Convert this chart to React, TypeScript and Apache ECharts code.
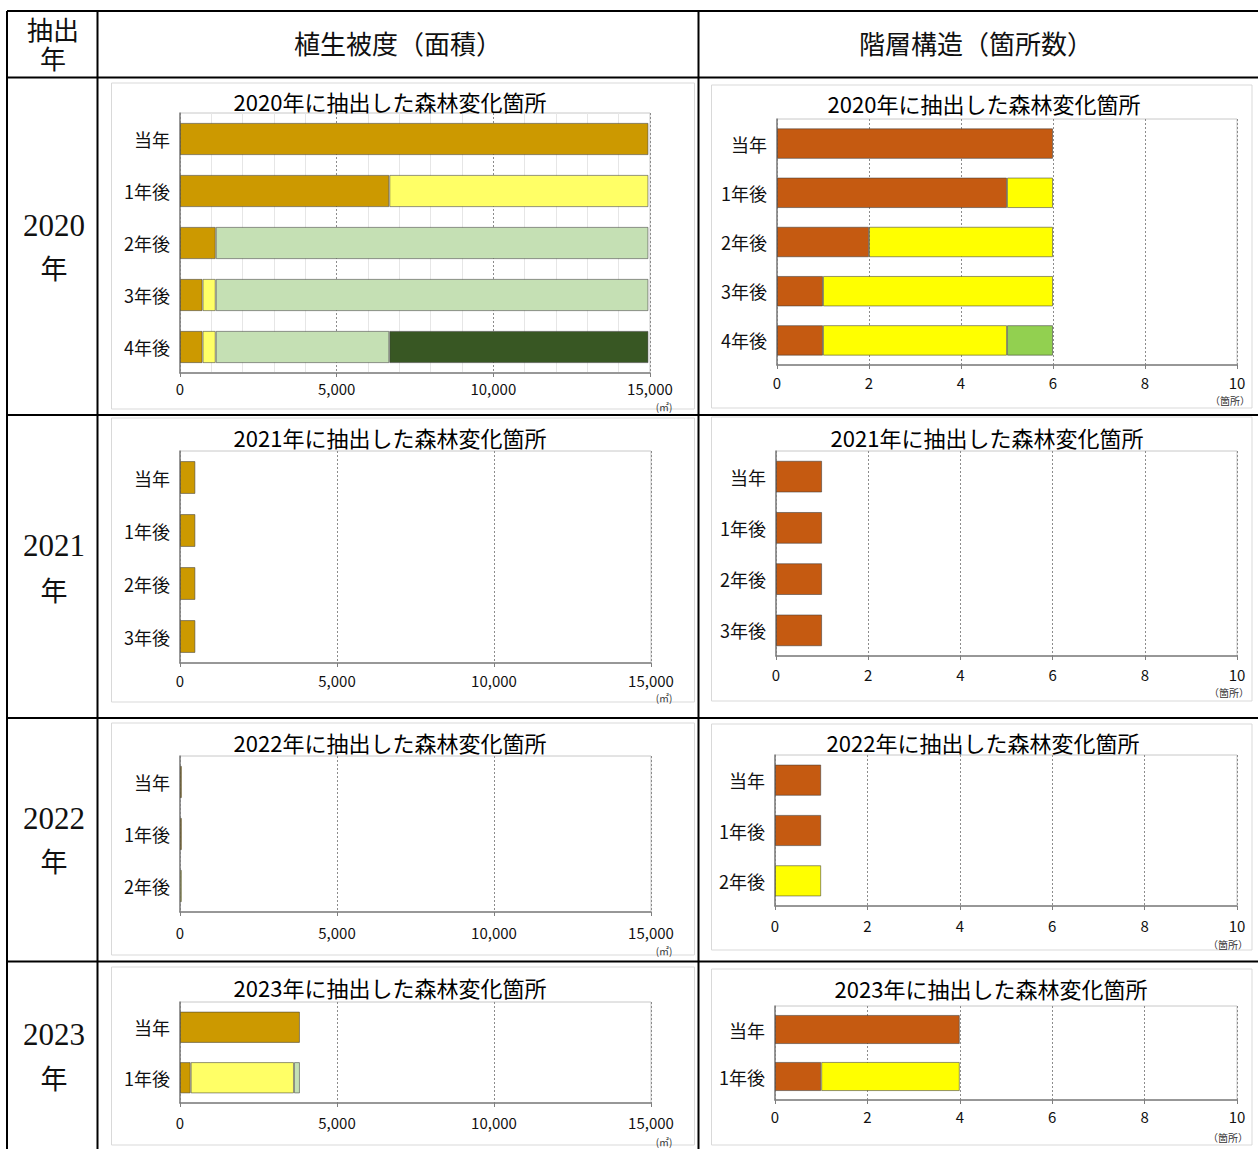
import React, { useEffect, useRef } from 'react';
import * as echarts from 'echarts';

// ---------------- data ----------------
const HEADER_COL1 = ['抽出', '年'];
const HEADER_COL2 = '植生被度（面積）';
const HEADER_COL3 = '階層構造（箇所数）';
const YEARS = ['2020', '2021', '2022', '2023'];
const YEAR_SUFFIX = '年';
const TITLE_SUFFIX = '年に抽出した森林変化箇所';
const UNIT_AREA = '(㎡)';
const UNIT_COUNT = '（箇所）';

const CATS_2020 = ['当年', '1年後', '2年後', '3年後', '4年後'];
const CATS_2021 = ['当年', '1年後', '2年後', '3年後'];
const CATS_2022 = ['当年', '1年後', '2年後'];
const CATS_2023 = ['当年', '1年後'];

// x-axis ticks
const AREA_MIN = 0;
const AREA_MAX = 15000;
const AREA_STEP = 5000;
const COUNT_MIN = 0;
const COUNT_MAX = 10;
const COUNT_STEP = 2;

// 植生被度（面積, ㎡）: stacked classes A..D
const AREA_2020_A = [14950, 6680, 1140, 720, 720];
const AREA_2020_B = [0, 8270, 0, 420, 420];
const AREA_2020_C = [0, 0, 13810, 13810, 5540];
const AREA_2020_D = [0, 0, 0, 0, 8270];
const AREA_2021_A = [490, 490, 490, 490];
const AREA_2022_A = [60, 60, 0];
const AREA_2022_B = [0, 0, 60];
const AREA_2023_A = [3820, 340];
const AREA_2023_B = [0, 3290];
const AREA_2023_C = [0, 190];

// 階層構造（箇所数）: stacked classes A..C
const COUNT_2020_A = [6, 5, 2, 1, 1];
const COUNT_2020_B = [0, 1, 4, 5, 4];
const COUNT_2020_C = [0, 0, 0, 0, 1];
const COUNT_2021_A = [1, 1, 1, 1];
const COUNT_2022_A = [1, 1, 0];
const COUNT_2022_B = [0, 0, 1];
const COUNT_2023_A = [4, 1];
const COUNT_2023_B = [0, 3];

// ---------------- styles / layout ----------------
const AREA_COLORS = ['#CC9900', '#FFFF66', '#C5E0B4', '#385723'];
const COUNT_COLORS = ['#C55A11', '#FFFF00', '#92D050'];
const FONT = '"Noto Sans CJK JP", "Noto Sans", sans-serif';
const SERIF = '"Liberation Serif", "DejaVu Serif", "Noto Sans CJK JP", serif';

type Panel = {
  kind: 'area' | 'count';
  year: string;
  cats: string[];
  stacks: number[][];
  grid: { left: number; top: number; width: number; height: number };
  box: [number, number, number, number];
  title: [number, number];
  unit: [number, number];
  margin: number;
  minor?: boolean;
};

const PANELS: Panel[] = [
  { kind: 'area', year: YEARS[0], cats: CATS_2020, stacks: [AREA_2020_A, AREA_2020_B, AREA_2020_C, AREA_2020_D],
    grid: { left: 180, top: 113, width: 470, height: 260 }, box: [111.5, 83, 583, 326], title: [390, 101], unit: [664, 406], margin: 8, minor: true },
  { kind: 'area', year: YEARS[1], cats: CATS_2021, stacks: [AREA_2021_A],
    grid: { left: 180, top: 451, width: 471, height: 212 }, box: [111.5, 418, 583, 284], title: [390, 437], unit: [664, 697], margin: 10 },
  { kind: 'area', year: YEARS[2], cats: CATS_2022, stacks: [AREA_2022_A, AREA_2022_B],
    grid: { left: 180, top: 756, width: 471, height: 156 }, box: [111.5, 723, 583, 232], title: [390, 742], unit: [664, 950], margin: 13 },
  { kind: 'area', year: YEARS[3], cats: CATS_2023, stacks: [AREA_2023_A, AREA_2023_B, AREA_2023_C],
    grid: { left: 180, top: 1002, width: 471, height: 101 }, box: [111.5, 967, 583, 178], title: [390, 987], unit: [664, 1141], margin: 12 },
  { kind: 'count', year: YEARS[0], cats: CATS_2020, stacks: [COUNT_2020_A, COUNT_2020_B, COUNT_2020_C],
    grid: { left: 777, top: 119, width: 460, height: 246 }, box: [711.5, 85, 540.5, 323], title: [984, 103], unit: [1230, 400], margin: 10 },
  { kind: 'count', year: YEARS[1], cats: CATS_2021, stacks: [COUNT_2021_A],
    grid: { left: 776, top: 451, width: 461, height: 205 }, box: [711.5, 417, 540.5, 284], title: [987, 437], unit: [1229, 692], margin: 11 },
  { kind: 'count', year: YEARS[2], cats: CATS_2022, stacks: [COUNT_2022_A, COUNT_2022_B],
    grid: { left: 775, top: 755, width: 462, height: 151 }, box: [711.5, 724, 540.5, 226], title: [983, 742], unit: [1228, 944], margin: 12 },
  { kind: 'count', year: YEARS[3], cats: CATS_2023, stacks: [COUNT_2023_A, COUNT_2023_B],
    grid: { left: 775, top: 1006, width: 462, height: 94 }, box: [711.5, 969, 540.5, 176], title: [991, 988], unit: [1228, 1137], margin: 9 },
];

// table geometry
const TABLE_X = [7, 97.5, 698.5];
const TABLE_RIGHT = 1258;
const TABLE_Y = [11, 77.5, 415, 718, 961.5];
const TABLE_BOTTOM = 1149;
const YEAR_TEXT_Y: [number, number][] = [[225, 270], [545, 592], [818, 863], [1034, 1080]];

function txt(text: string, x: number, y: number, size: number, family = FONT, fill = '#000', align = 'center') {
  return {
    type: 'text',
    x,
    y,
    z: 100,
    style: {
      text,
      fill,
      fontSize: size,
      fontFamily: family,
      align,
      verticalAlign: 'middle',
      textAlign: align,
      textVerticalAlign: 'middle',
    },
  };
}

function buildOption() {
  const grid: any[] = [];
  const xAxis: any[] = [];
  const yAxis: any[] = [];
  const series: any[] = [];
  const graphic: any[] = [];

  PANELS.forEach((p, i) => {
    grid.push({ ...p.grid, show: true, borderColor: '#c8c8c8', borderWidth: 1, backgroundColor: '#fff', containLabel: false });
    const isArea = p.kind === 'area';
    xAxis.push({
      type: 'value',
      gridIndex: i,
      min: isArea ? AREA_MIN : COUNT_MIN,
      max: isArea ? AREA_MAX : COUNT_MAX,
      interval: isArea ? AREA_STEP : COUNT_STEP,
      axisLine: { show: true, onZero: false, lineStyle: { color: '#7f7f7f', width: 1.5 } },
      axisTick: { show: true, length: 4, lineStyle: { color: '#7f7f7f' } },
      axisLabel: {
        margin: p.margin,
        color: '#111',
        fontSize: 15,
        fontFamily: FONT,
        formatter: (v: number) => v.toLocaleString('en-US'),
      },
      splitLine: { show: true, lineStyle: { color: '#8c8c8c', type: [2, 2], width: 1 } },
      minorTick: { show: false, splitNumber: 5 },
      minorSplitLine: { show: !!p.minor, lineStyle: { color: '#e6e6e6', width: 1 } },
    });
    yAxis.push({
      type: 'category',
      gridIndex: i,
      inverse: true,
      data: p.cats,
      axisLine: { show: true, lineStyle: { color: '#7f7f7f', width: 1.5 } },
      axisTick: { show: false },
      axisLabel: { margin: 10, color: '#111', fontSize: 18, fontFamily: FONT },
      splitLine: { show: false },
    });
    const colors = isArea ? AREA_COLORS : COUNT_COLORS;
    p.stacks.forEach((vals, k) => {
      series.push({
        type: 'bar',
        name: `${p.kind}-${p.year}-${k + 1}`,
        xAxisIndex: i,
        yAxisIndex: i,
        stack: `s${i}`,
        barCategoryGap: '38%',
        data: vals.map((v) => (v === 0 ? '-' : v)),
        itemStyle: { color: colors[k], borderColor: 'rgba(60,60,60,0.55)', borderWidth: 1 },
        emphasis: { disabled: true },
      });
    });
    graphic.push({
      type: 'rect',
      z: -1,
      shape: { x: p.box[0], y: p.box[1], width: p.box[2], height: p.box[3] },
      style: { fill: 'transparent', stroke: '#d9d9d9', lineWidth: 1 },
    });
    graphic.push(txt(`${p.year}${TITLE_SUFFIX}`, p.title[0], p.title[1], 22));
    graphic.push(txt(isArea ? UNIT_AREA : UNIT_COUNT, p.unit[0], p.unit[1], 10, FONT, '#333'));
  });

  // table lines
  TABLE_Y.forEach((y) => {
    graphic.push({ type: 'line', z: 50, shape: { x1: TABLE_X[0], y1: y, x2: TABLE_RIGHT, y2: y }, style: { stroke: '#000', lineWidth: 2 } });
  });
  TABLE_X.forEach((x) => {
    graphic.push({ type: 'line', z: 50, shape: { x1: x, y1: TABLE_Y[0], x2: x, y2: TABLE_BOTTOM }, style: { stroke: '#000', lineWidth: 2 } });
  });

  // header texts
  graphic.push(txt(HEADER_COL1[0], 53, 31, 26, SERIF, '#111'));
  graphic.push(txt(HEADER_COL1[1], 53, 60, 26, SERIF, '#111'));
  graphic.push(txt(HEADER_COL2, 398, 45, 26, SERIF, '#111'));
  graphic.push(txt(HEADER_COL3, 976, 45, 26, SERIF, '#111'));
  YEARS.forEach((y, i) => {
    graphic.push(txt(y, 54, YEAR_TEXT_Y[i][0], 31, SERIF, '#111'));
    graphic.push(txt(YEAR_SUFFIX, 54, YEAR_TEXT_Y[i][1], 27, SERIF, '#111'));
  });

  return {
    animation: false,
    backgroundColor: '#fff',
    textStyle: { fontFamily: FONT },
    grid,
    xAxis,
    yAxis,
    series,
    graphic: { elements: graphic },
  };
}

export default function App() {
  const ref = useRef<HTMLDivElement>(null);
  useEffect(() => {
    if (!ref.current) return;
    const chart = echarts.init(ref.current, undefined, { renderer: 'svg' });
    chart.setOption(buildOption() as any);
    return () => chart.dispose();
  }, []);
  return (
    <div
      ref={ref}
      style={{ position: 'absolute', left: 0, top: 0, width: 1258, height: 1149, background: '#fff' }}
    />
  );
}
